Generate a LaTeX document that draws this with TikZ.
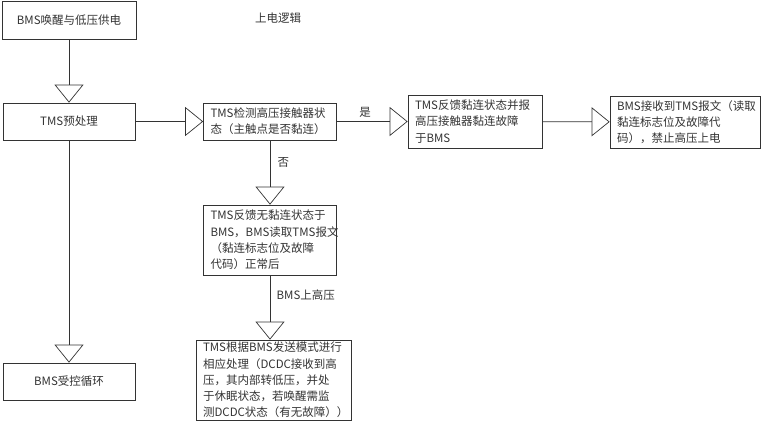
\documentclass[tikz,border=0pt]{standalone}
\usepackage{fontspec}
\newfontfamily\cjk{Noto Sans CJK SC}
\usetikzlibrary{arrows.meta}

\begin{document}
\begin{tikzpicture}[x=1pt,y=-1pt,
    box/.style={draw=black!80, line width=0.7pt, inner xsep=7pt, inner ysep=2pt,
      align=left, text=black!80, font=\cjk\fontsize{11.5}{16.3}\selectfont},
    flow/.style={draw=black!80, line width=0.7pt, -{Triangle[open,length=18pt,width=29pt]}},
    lbl/.style={text=black!80, font=\cjk\fontsize{11.5}{14}\selectfont}]
    \useasboundingbox (0,0) rectangle (761,429);

    \node[lbl] (title) at (278,18) {上电逻辑};

    \node[box, align=center, minimum width=134pt, minimum height=38pt] (bmswake) at (69,20) {BMS唤醒与低压供电};
    \node[box, align=center, minimum width=132pt, minimum height=37pt] (tmspre) at (69,121.5) {TMS预处理};
    \node[box, align=center, minimum width=132pt, minimum height=37pt] (bmsloop) at (69,381.5) {BMS受控循环};
    \node[box, text width=119pt, minimum height=37pt] (tmscheck) at (270,121.5) {TMS检测高压接触器状\\态（主触点是否黏连）};
    \node[box, text width=120pt, minimum height=53pt] (tmsstick) at (475,121.5) {TMS反馈黏连状态并报\\高压接触器黏连故障\\于BMS};
    \node[box, text width=136pt, minimum height=52pt] (bmsstop) at (685,122) {BMS接收到TMS报文（读取\\黏连标志位及故障代\\码），禁止高压上电};
    \node[box, text width=119pt, minimum height=70pt] (tmsok) at (270,240) {TMS反馈无黏连状态于\\BMS，BMS读取TMS报文\\（黏连标志位及故障\\代码）正常后};
    \node[box, text width=141pt, minimum height=80pt] (tmsmode) at (273.5,380) {TMS根据BMS发送模式进行\\相应处理（DCDC接收到高\\压，其内部转低压，并处\\于休眠状态，若唤醒需监\\测DCDC状态（有无故障））};

    \draw[flow] (bmswake) -- (tmspre);
    \draw[flow] (tmspre) -- (bmsloop);
    \draw[flow] (tmspre) -- (tmscheck);
    \draw[flow] (tmscheck) -- node[lbl, pos=0.4, above] {是} (tmsstick);
    \draw[flow] (tmsstick) -- (bmsstop);
    \draw[flow] (tmscheck) -- node[lbl, pos=0.35, right=4pt] {否} (tmsok);
    \draw[flow] (tmsok.south) -- node[lbl, pos=0.3, right=3pt] {BMS上高压} (tmsok.south |- tmsmode.north);
  \end{tikzpicture}
\end{document}
